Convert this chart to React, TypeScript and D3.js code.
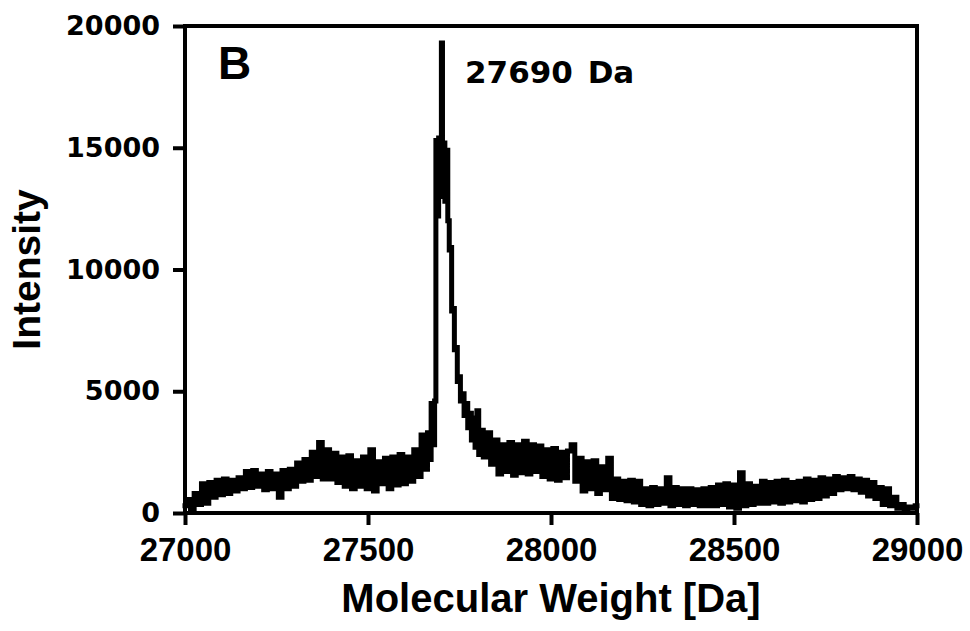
import React, { useEffect, useRef } from 'react';
import * as d3 from 'd3';

// Spectrum read off the picture. Left and right segments are sampled every 10 Da,
// the peak itself uses its own mass list because it is much narrower.
const massStep = 10;
const leftStart = 27000;
const leftIntensity = [
  300, 550, 150, 800, 350, 1200, 400, 1250, 650, 1350,
  750, 1400, 800, 1350, 900, 1450, 1000, 1700, 1050, 1750,
  1100, 1600, 950, 1700, 1000, 1600, 650, 1750, 1000, 1800,
  1100, 2050, 1300, 2200, 1350, 2500, 1500, 2900, 1400, 2600,
  1400, 2450, 1250, 2300, 1100, 2350, 1000, 2150, 1100, 2300,
  1000, 2600, 900, 2100, 1200, 2250, 1000, 2300, 1150, 2400,
  1200, 2300, 1300, 2600, 1500, 3200, 1800,
];

const peakMass = [
  27665, 27670, 27675, 27680, 27684, 27687, 27691, 27695, 27699, 27702,
  27705, 27708, 27712, 27716, 27720, 27724, 27727, 27730, 27734, 27738,
  27742, 27746, 27750, 27755, 27760, 27765, 27770, 27775, 27780, 27785,
  27790, 27795, 27800, 27805,
];
const peakIntensity = [
  3300, 2200, 4500, 2800, 4600, 15300, 12200, 15400, 13000, 19300,
  13200, 15200, 12800, 14900, 12000, 10800, 10900, 8300, 8400, 6700,
  6800, 5400, 5600, 4600, 4900, 4000, 4500, 3500, 4100, 3000,
  3900, 2700, 4200, 2400,
];

const rightStart = 27810;
const rightIntensity = [
  3400, 2300, 3300, 2000, 3000, 1600, 2800, 1700, 2900, 1550,
  2800, 1650, 2950, 1600, 2800, 1700, 2750, 1500, 2600, 1400,
  2650, 1350, 2500, 1450, 2550, 2800, 1300, 2250, 900, 2100,
  1000, 2150, 800, 1900, 950, 2250, 600, 1400, 550, 1300,
  500, 1350, 450, 1300, 350, 1000, 300, 1050, 350, 1000,
  400, 1450, 300, 1050, 350, 1000, 300, 1000, 350, 950,
  300, 1000, 300, 1050, 300, 1150, 350, 1200, 250, 1150,
  200, 1650, 300, 1200, 350, 1100, 400, 1300, 400, 1250,
  450, 1300, 400, 1350, 450, 1250, 500, 1300, 450, 1400,
  550, 1350, 600, 1450, 700, 1400, 800, 1500, 950, 1450,
  1000, 1500, 950, 1400, 850, 1350, 700, 1250, 600, 1050,
  350, 1000, 300, 650, 200, 350, 150, 250, 200, 300,
];

const xTicks = [27000, 27500, 28000, 28500, 29000];
const yTicks = [0, 5000, 10000, 15000, 20000];

const W = 970;
const H = 631;
const margin = { top: 26, right: 53, bottom: 118, left: 185 };

export default function App() {
  const svgRef = useRef<SVGSVGElement>(null);

  useEffect(() => {
    if (!svgRef.current) return;
    const svg = d3.select(svgRef.current);
    svg.selectAll('*').remove();

    const points: [number, number][] = [
      ...leftIntensity.map((v, i) => [leftStart + i * massStep, v] as [number, number]),
      ...peakMass.map((m, i) => [m, peakIntensity[i]] as [number, number]),
      ...rightIntensity.map((v, i) => [rightStart + i * massStep, v] as [number, number]),
    ];

    const x = d3.scaleLinear().domain([27000, 29000]).range([margin.left, W - margin.right]);
    const y = d3.scaleLinear().domain([0, 20000]).range([H - margin.bottom, margin.top]);

    // spectrum trace, drawn as thick steps like the original plot
    const line = d3.line<[number, number]>()
      .x(d => x(d[0]))
      .y(d => y(d[1]))
      .curve(d3.curveStep);

    svg.append('path')
      .datum(points)
      .attr('fill', 'none')
      .attr('stroke', '#000')
      .attr('stroke-width', 5)
      .attr('stroke-linejoin', 'miter')
      .attr('stroke-linecap', 'square')
      .attr('d', line);

    // frame
    svg.append('rect')
      .attr('x', x(27000))
      .attr('y', y(20000))
      .attr('width', x(29000) - x(27000))
      .attr('height', y(0) - y(20000))
      .attr('fill', 'none')
      .attr('stroke', '#000')
      .attr('stroke-width', 4);

    // x axis
    svg.append('g')
      .attr('transform', `translate(0,${y(0)})`)
      .call(d3.axisBottom(x).tickValues(xTicks).tickFormat(d3.format('d')).tickSize(12).tickPadding(13))
      .call(g => g.select('.domain').remove())
      .call(g => g.selectAll('line').attr('stroke-width', 4))
      .call(g => g.selectAll('text')
        .attr('fill', '#000')
        .attr('font-family', 'Liberation Sans, Arial, sans-serif')
        .attr('font-weight', 'bold')
        .attr('font-size', 33));

    // y axis
    svg.append('g')
      .attr('transform', `translate(${x(27000)},0)`)
      .call(d3.axisLeft(y).tickValues(yTicks).tickFormat(d3.format('d')).tickSize(12).tickPadding(13))
      .call(g => g.select('.domain').remove())
      .call(g => g.selectAll('line').attr('stroke-width', 4))
      .call(g => g.selectAll('text')
        .attr('fill', '#000')
        .attr('font-family', 'DejaVu Sans, sans-serif')
        .attr('font-weight', 'bold')
        .attr('font-size', 27));

    // axis titles
    svg.append('text')
      .attr('x', (x(27000) + x(29000)) / 2)
      .attr('y', 612)
      .attr('text-anchor', 'middle')
      .attr('font-family', 'Liberation Sans, Arial, sans-serif')
      .attr('font-weight', 'bold')
      .attr('font-size', 40)
      .text('Molecular Weight [Da]');

    svg.append('text')
      .attr('transform', `translate(40,${(y(0) + y(20000)) / 2}) rotate(-90)`)
      .attr('text-anchor', 'middle')
      .attr('font-family', 'Liberation Sans, Arial, sans-serif')
      .attr('font-weight', 'bold')
      .attr('font-size', 39)
      .text('Intensity');

    // panel letter and peak annotation
    svg.append('text')
      .attr('x', 218)
      .attr('y', 79)
      .attr('font-family', 'Liberation Sans, Arial, sans-serif')
      .attr('font-weight', 'bold')
      .attr('font-size', 46)
      .text('B');

    svg.append('text')
      .attr('x', 465)
      .attr('y', 83)
      .attr('font-family', 'DejaVu Sans, sans-serif')
      .attr('font-weight', 'bold')
      .attr('font-size', 31)
      .attr('word-spacing', 4)
      .text('27690 Da');
  }, []);

  return (
    <svg
      ref={svgRef}
      width={W}
      height={H}
      viewBox={`0 0 ${W} ${H}`}
      style={{ position: 'absolute', left: 0, top: 0, background: '#fff' }}
    />
  );
}
